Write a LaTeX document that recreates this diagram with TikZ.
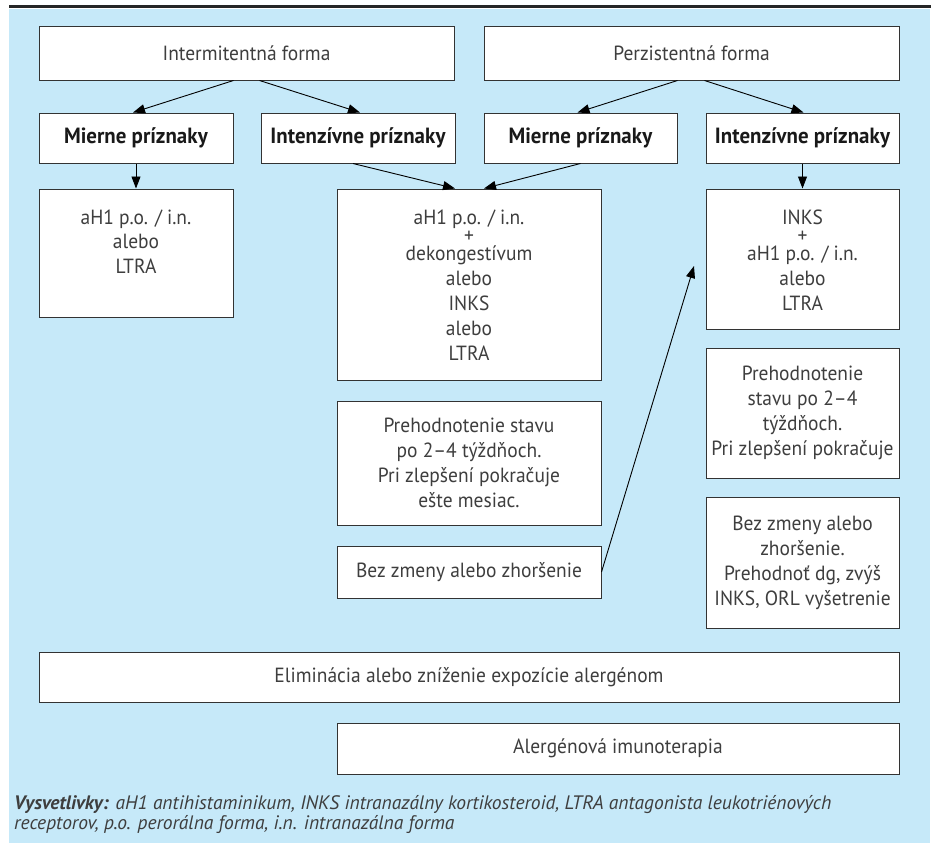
\documentclass[tikz,border=0pt]{standalone}
\usepackage{fontspec}
\setmainfont{PT Sans}[FakeStretch=0.95]
\newfontfamily\legfont{PT Sans}
\usetikzlibrary{arrows.meta,calc,shadows}
\definecolor{panel}{RGB}{198,233,249}
\definecolor{txt}{RGB}{62,62,62}
\begin{document}
\begin{tikzpicture}[x=1pt,y=-1pt,
  bx/.style 2 args={draw=black!80, line width=1pt, fill=white, inner sep=0pt,
    minimum width=#1pt, minimum height=#2pt, align=center, text=txt,
    font=\fontsize{20.5}{25}\selectfont,
    drop shadow={shadow xshift=1.2pt, shadow yshift=-1.2pt, opacity=0.35, fill=black}},
  hd/.style={font=\fontsize{22}{25}\selectfont\bfseries, text=black!90},
  tx/.style={anchor=base, align=center, inner sep=0pt, text=txt,
    font=\fontsize{20.5}{25}\selectfont},
  arr/.style={-{Triangle[length=12pt,width=9pt]}, line width=0.9pt, black},
  leg/.style={anchor=base west, inner sep=0pt, text=txt,
    font=\legfont\fontsize{19.5}{22}\selectfont\itshape}]
\useasboundingbox (0,0) rectangle (934,843);
\fill[white] (0,0) rectangle (934,843);
\fill[panel] (9,9) rectangle (930,843);
\draw[line width=3pt, black!85] (9,7) -- (931,7);

% top row
\node[bx={415}{53}] (int) at (246.5,53.5) {Intermitentná forma};
\node[bx={415}{53}] (per) at (691.5,53.5) {Perzistentná forma};
% second row
\node[bx={194}{50}, hd] (m1) at (136,138) {Mierne príznaky};
\node[bx={194}{50}, hd] (i1) at (358,138) {Intenzívne príznaky};
\node[bx={193}{50}, hd] (m2) at (580.5,138) {Mierne príznaky};
\node[bx={193}{50}, hd] (i2) at (802.5,138) {Intenzívne príznaky};
% third row
\node[bx={194}{128}] (A) at (136,253) {};
\node[tx] (At) at (136,273) {aH1 p.o. / i.n.\\[-0.5pt]alebo\\[-0.5pt]LTRA};
\node[bx={264}{191}] (B) at (469,284.5) {};
\node[tx] (Bt) at (469,360) {aH1 p.o. / i.n.\\[-7pt]+\\[-7pt]dekongestívum\\alebo\\INKS\\alebo\\LTRA};
\node[bx={193}{140}] (C) at (802.5,259) {};
\node[tx] (Ct) at (802.5,310) {INKS\\[-7pt]+\\[-7pt]aH1 p.o. / i.n.\\alebo\\LTRA};
% lower boxes
\node[bx={264}{124}] (D) at (469,463) {Prehodnotenie stavu\\po 2–4 týždňoch.\\Pri zlepšení pokračuje\\ešte mesiac.};
\node[bx={264}{52}] (E) at (469,572) {Bez zmeny alebo zhoršenie};
\node[bx={193}{130}] (F) at (802.5,413) {Prehodnotenie\\stavu po 2–4\\týždňoch.\\Pri zlepšení pokračuje};
\node[bx={193}{131}] (G) at (802.5,562.5) {Bez zmeny alebo\\zhoršenie.\\Prehodnoť dg, zvýš\\INKS, ORL vyšetrenie};
\node[bx={860}{50}] (H) at (469,677) {Eliminácia alebo zníženie expozície alergénom};
\node[bx={562}{51}] (I) at (618,748.5) {Alergénová imunoterapia};

% arrows
\draw[arr] ([xshift=-13pt]int.south) -- ([xshift=-3pt]m1.north);
\draw[arr] ([xshift=13pt]int.south) -- ([xshift=2pt]i1.north);
\draw[arr] ([xshift=-14pt]per.south) -- ([xshift=-3pt]m2.north);
\draw[arr] ([xshift=13pt]per.south) -- ([xshift=1pt]i2.north);
\draw[arr] (m1.south) -- (A.north);
\draw[arr] ([xshift=-5pt]i1.south) -- ([xshift=-14pt]B.north);
\draw[arr] (m2.south) -- ([xshift=15pt]B.north);
\draw[arr] (i2.south) -- (C.north);
\coordinate (Ctip) at (694,266);
\draw[arr] (E.east) -- (Ctip);

% legend
\node[leg] (leg1) at (14,809) {\textbf{Vysvetlivky:} aH1 antihistaminikum, INKS intranazálny kortikosteroid, LTRA antagonista leukotriénových};
\node[leg] (leg2) at (14,829) {receptorov, p.o. perorálna forma, i.n. intranazálna forma};
\end{tikzpicture}
\end{document}
